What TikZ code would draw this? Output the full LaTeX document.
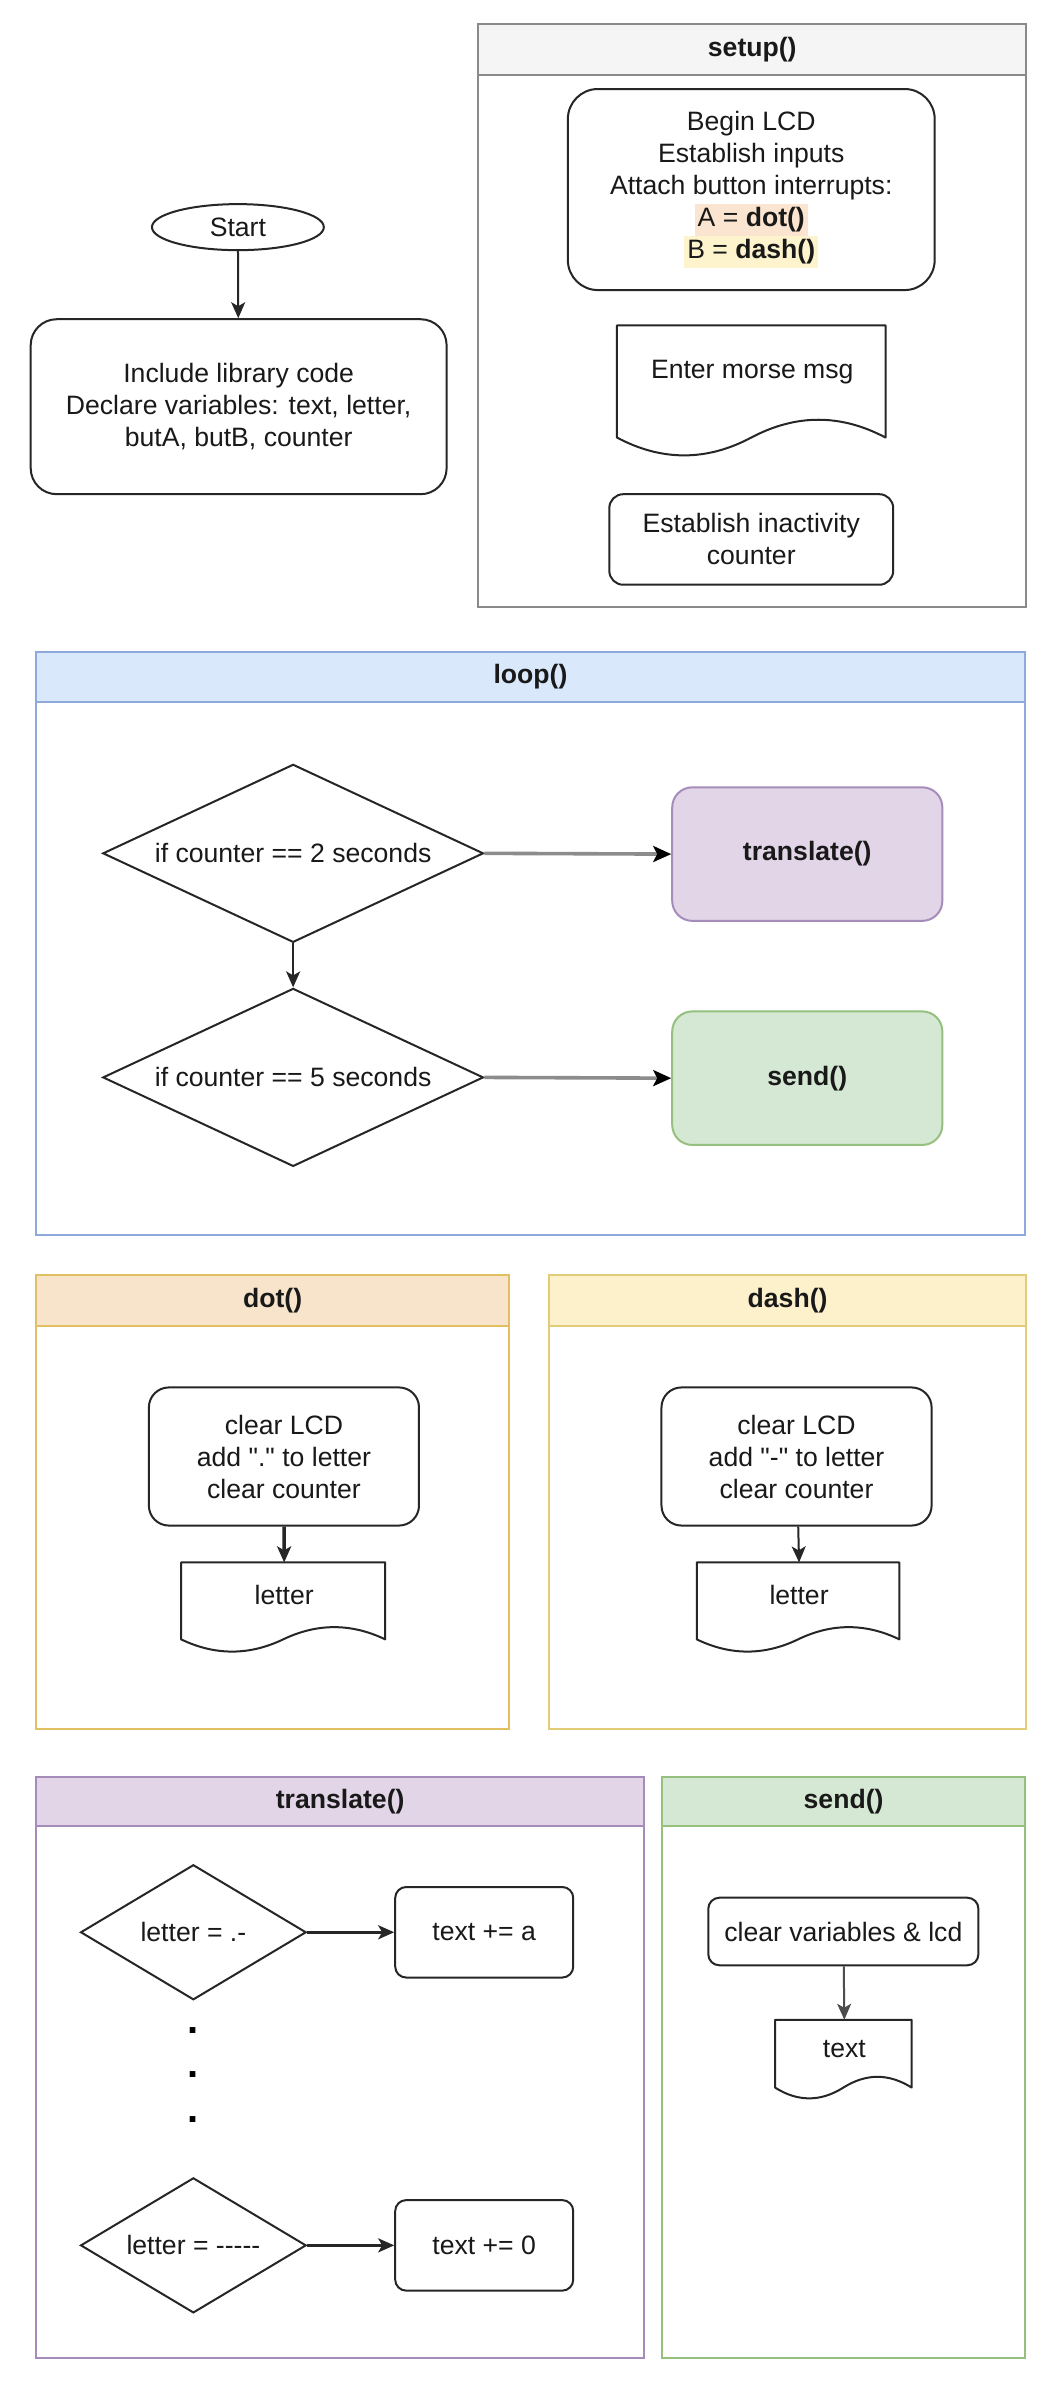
\documentclass[tikz,border=0pt]{standalone}
\usepackage{fontspec}
\setmainfont{Liberation Sans}[Ligatures=TeXOff]
\usetikzlibrary{shapes.geometric,arrows.meta}
\definecolor{setupF}{HTML}{F5F5F5}\definecolor{setupS}{HTML}{8A8A8A}
\definecolor{loopF}{HTML}{DAE8FC}\definecolor{loopS}{HTML}{8EA9DB}
\definecolor{dotF}{HTML}{F8E4CA}\definecolor{dotS}{HTML}{E2BF62}
\definecolor{dashF}{HTML}{FCF1CA}\definecolor{dashS}{HTML}{E3CC78}
\definecolor{trF}{HTML}{E1D5E7}\definecolor{trS}{HTML}{A68CBB}
\definecolor{sdF}{HTML}{D5E8D4}\definecolor{sdS}{HTML}{96C07E}
\definecolor{hlA}{HTML}{FBE5D0}\definecolor{hlB}{HTML}{FDF3CC}
\newcommand\U{0.7674pt}
\newcommand\fs{\fontsize{13.3}{16}\selectfont}
\newcommand\hl[2]{{\setlength\fboxsep{0pt}\colorbox{#1}{\strut\hspace{1.5pt}#2\hspace{1.5pt}}}}
\tikzset{
  base/.style={draw=black!85, line width=1pt, font=\fs, align=center, inner sep=0pt, text=black!90},
  sz/.style 2 args={minimum width={#1*\U}, minimum height={#2*\U}},
  rbox/.style={base, rectangle, rounded corners=#1},
  dia/.style={base, diamond, aspect=#1},
  lane/.style={line width=1pt, rectangle, inner sep=0pt, anchor=north west},
  lanehead/.style={lane, font=\fs\bfseries, text=black!90},
  arr/.style={line width=1pt, draw=black!85, -{Stealth[length=8pt,width=7pt,inset=2pt]}},
  garr/.style={line width=1.8pt, draw=black!45, -{Stealth[length=9pt,width=8pt,inset=2pt,color=black,fill=black]}},
  outline/.style={draw=black!85, line width=1pt, line join=round},
}
\newcommand\docnode[6]{%
  \pgfmathsetmacro\dY{0.3*#5}\pgfmathsetmacro\dT{#5-\dY}%
  \pgfmathsetmacro\xa{#2}\pgfmathsetmacro\xb{#2+#4}\pgfmathsetmacro\xm{#2+#4/2}%
  \pgfmathsetmacro\xcA{#2+5*#4/6}\pgfmathsetmacro\xcB{#2+2*#4/3}%
  \pgfmathsetmacro\xcC{#2+#4/3}\pgfmathsetmacro\xcD{#2+#4/6}%
  \pgfmathsetmacro\ye{#3+#5-0.5*\dY}%
  \pgfmathsetmacro\yu{\ye-0.6*\dY}\pgfmathsetmacro\yd{\ye+0.6*\dY}%
  \draw[outline, fill=white] (\xa,#3) -- (\xb,#3) -- (\xb,\ye) .. controls (\xcA,\yu) and (\xcB,\yu) .. (\xm,\ye) .. controls (\xcC,\yd) and (\xcD,\yd) .. (\xa,\ye) -- cycle;
  \node[base, draw=none, anchor=north west, sz={#4}{\dT}] (#1) at (#2,#3) {#6};%
}
\begin{document}
\begin{tikzpicture}[x=0.7674pt, y=-0.7674pt]
\useasboundingbox[fill=white] (0,0) rectangle (690,1555.3);

% ---------- Start and declarations
\node[base, ellipse, sz={112}{30}] (start) at (155,148) {Start};
\node[rbox=13pt, sz={271}{114}] (incl) at (155.5,265) {Include library code\\Declare variables: text, letter,\\butA, butB, counter};
\draw[arr] (start) -- (incl);

% ---------- setup()
\node[lane, draw=setupS, sz={357}{380}] (setupL) at (311,15) {};
\node[lanehead, draw=setupS, fill=setupF, sz={357}{33}] (setupH) at (311,15) {setup()};
\node[rbox=15pt, sz={239}{131}] (lcd) at (489.5,123.5) {Begin LCD\\Establish inputs\\Attach button interrupts:\\\hl{hlA}{A = \textbf{dot()}}\\\hl{hlB}{B = \textbf{dash()}}};
\docnode{morse}{402}{212}{175}{86}{Enter morse msg}
\node[rbox=7pt, sz={185}{59}] (inact) at (489.5,351.5) {Establish inactivity\\counter};

% ---------- loop()
\node[lane, draw=loopS, sz={644}{380}] (loopL) at (23,424) {};
\node[lanehead, draw=loopS, fill=loopF, sz={644}{33}] (loopH) at (23,424) {loop()};
\node[dia=2.14, sz={248}{116}] (d1) at (191,556) {if counter == 2 seconds};
\node[dia=2.14, sz={248}{116}] (d2) at (191,702) {if counter == 5 seconds};
\node[rbox=10pt, draw=trS, fill=trF, sz={176}{87}, font=\fs\bfseries] (trbox) at (526,556.5) {translate()};
\node[rbox=10pt, draw=sdS, fill=sdF, sz={176}{87}, font=\fs\bfseries] (sdbox) at (526,702.5) {send()};
\draw[garr] (d1.east) -- (trbox.west);
\draw[garr] (d2.east) -- (sdbox.west);
\draw[arr] (d1.south) -- (d2.north);

% ---------- dot()
\node[lane, draw=dotS, sz={308}{296}] (dotL) at (23,830) {};
\node[lanehead, draw=dotS, fill=dotF, sz={308}{33}] (dotH) at (23,830) {dot()};
\node[rbox=10pt, sz={176}{90}] (dotbox) at (185,949) {clear LCD\\add "." to letter\\clear counter};
\docnode{dotlet}{118}{1018}{133}{59}{letter}
\draw[arr, line width=1.8pt] (dotbox) -- (dotlet.north);

% ---------- dash()
\node[lane, draw=dashS, sz={311}{296}] (dashL) at (357,830) {};
\node[lanehead, draw=dashS, fill=dashF, sz={311}{33}] (dashH) at (357,830) {dash()};
\node[rbox=10pt, sz={176}{90}] (dashbox) at (519,949) {clear LCD\\add "-" to letter\\clear counter};
\docnode{dashlet}{454}{1018}{132}{59}{letter}
\draw[arr] (dashbox) -- (dashlet.north);

% ---------- translate()
\node[lane, draw=trS, sz={396}{379}] (trL) at (23,1157) {};
\node[lanehead, draw=trS, fill=trF, sz={396}{32}] (trH) at (23,1157) {translate()};
\node[dia=1.69, sz={147}{88}] (td1) at (126,1259) {letter = .-};
\node[rbox=5.5pt, sz={116}{59}] (tb1) at (315.5,1259) {text += a};
\node[font=\bfseries\fontsize{20}{22.3}\selectfont, align=center, inner sep=0pt] (dots) at (126,1352) {.\\.\\.};
\node[dia=1.69, sz={147}{88}] (td2) at (126,1463) {letter = -----};
\node[rbox=5.5pt, sz={116}{59}] (tb2) at (315.5,1463) {text += 0};
\draw[arr, line width=1.4pt] (td1.east) -- (tb1.west);
\draw[arr, line width=1.4pt] (td2.east) -- (tb2.west);

% ---------- send()
\node[lane, draw=sdS, sz={236}{379}] (sdL) at (431,1157) {};
\node[lanehead, draw=sdS, fill=sdF, sz={236}{32}] (sdH) at (431,1157) {send()};
\node[rbox=5.5pt, sz={176}{44}] (clr) at (549.5,1258.5) {clear variables \& lcd};
\docnode{txt}{505}{1316}{89}{52}{text}
\draw[arr, draw=black!70] (clr) -- (txt.north);
\end{tikzpicture}
\end{document}
